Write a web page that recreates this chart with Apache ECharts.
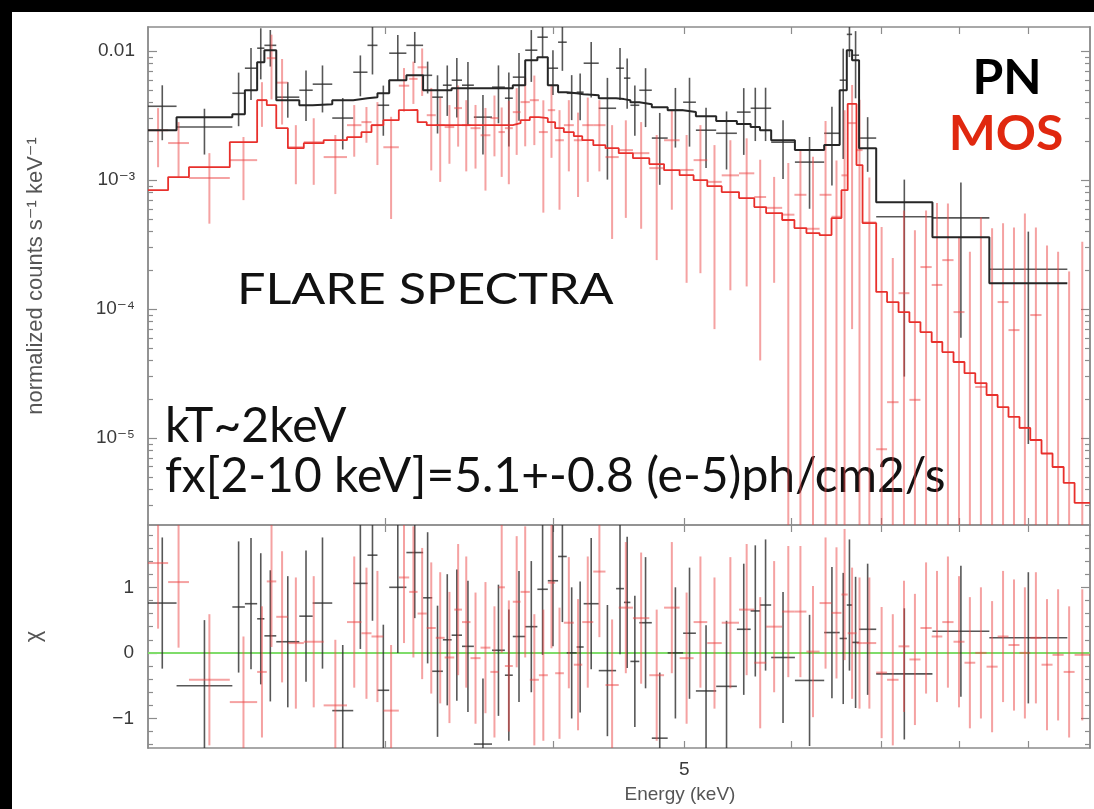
<!DOCTYPE html>
<html>
<head>
<meta charset="utf-8">
<style>
  html, body { margin: 0; padding: 0; background: #fff; }
  #chart { width: 1094px; height: 809px; }
</style>
<script src="https://cdn.jsdelivr.net/npm/echarts@6/dist/echarts.min.js"></script>
</head>
<body>
<div id="chart"></div>
<script>
// PN (black): bin edges in keV, counts/s/keV, 1-sigma errors, folded model, chi residuals
const pnEdges = [2.00, 2.10, 2.31, 2.36, 2.41, 2.44, 2.49, 2.59, 2.65, 2.74, 2.84, 2.91, 2.96, 3.02,
  3.11, 3.20, 3.25, 3.31, 3.36, 3.42, 3.49, 3.60, 3.68, 3.73, 3.81, 3.89, 3.96, 4.03, 4.09, 4.16,
  4.21, 4.32, 4.45, 4.51, 4.56, 4.63, 4.73, 4.86, 4.99, 5.10, 5.28, 5.47, 5.60, 5.69, 5.80, 6.04,
  6.35, 6.52, 6.60, 6.66, 6.74, 6.94, 7.64, 8.42, 9.62];
const pnRate = [0.00374, 0.00258, 0.00472, 0.00738, 0.01055, 0.0111, 0.0044, 0.00498, 0.00555,
  0.00303, 0.00687, 0.0111, 0.00381, 0.00965, 0.0111, 0.0065, 0.0044, 0.00545, 0.00596, 0.00545,
  0.00308, 0.00526, 0.00432, 0.00629, 0.01018, 0.01284, 0.00738, 0.01174, 0.00472, 0.00481,
  0.00807, 0.00361, 0.00738, 0.00618, 0.00381, 0.00498, 0.00212, 0.00349, 0.00402, 0.00244,
  0.00231, 0.00337, 0.00361, 0.00361, 0.00197, 0.00138, 0.00231, 0.00596, 0.0135, 0.00931,
  0.00212, 0.00052, 0.00051, 0.000204];
const pnErr = [0.0017, 0.0010, 0.0021, 0.0032, 0.0045, 0.0035, 0.00135, 0.0021, 0.0022, 0.0013,
  0.0024, 0.0045, 0.0016, 0.0037, 0.003, 0.0018, 0.0021, 0.0023, 0.0029, 0.0028, 0.0015, 0.0025,
  0.0025, 0.0034, 0.0044, 0.004, 0.0028, 0.0047, 0.0018, 0.0019, 0.0037, 0.0026, 0.0032, 0.0026,
  0.0016, 0.0024, 0.0012, 0.0017, 0.0022, 0.0012, 0.0011, 0.0018, 0.0016, 0.0016, 0.00095,
  0.00078, 0.0014, 0.0045, 0.0045, 0.005, 0.00096, 0.00049, 0.00045, 0.000195];
const pnModel = [0.00244, 0.00308, 0.00325, 0.00498, 0.00822, 0.01018, 0.00417, 0.00381, 0.00388,
  0.00417, 0.00432, 0.0044, 0.00472, 0.00596, 0.00652, 0.00498, 0.00498, 0.00498, 0.00517,
  0.00517, 0.00517, 0.00517, 0.00517, 0.00545, 0.00852, 0.00898, 0.00545, 0.00481, 0.00472,
  0.00464, 0.00456, 0.00432, 0.00425, 0.00417, 0.00402, 0.00388, 0.00368, 0.00349, 0.00337,
  0.00313, 0.00287, 0.00272, 0.00258, 0.00244, 0.00204, 0.00171, 0.00187, 0.00498, 0.01018,
  0.00852, 0.00177, 0.000675, 0.000361, 0.000159];
const pnChi = [0.76, -0.50, 0.70, 0.75, 0.52, 0.26, 0.17, 0.56, 0.76, -0.88, 1.06, 1.49, -0.57,
  1.00, 1.53, 0.84, -0.28, 0.20, 0.27, 0.10, -1.39, 0.04, -0.34, 0.25, 0.40, 0.97, 1.10, 1.47,
  0.00, 0.09, 0.75, -0.27, 0.98, 0.77, -0.13, 0.46, -1.30, 0.00, 0.30, -0.58, -0.51, 0.36, 0.64,
  0.73, -0.07, -0.42, 0.31, 0.22, 0.73, 0.16, 0.36, -0.32, 0.33, 0.23];

// MOS (red)
const mosEdges = [2.00, 2.07, 2.145, 2.30, 2.41, 2.45, 2.49, 2.54, 2.61, 2.70, 2.81, 2.88, 2.93,
  2.99, 3.07, 3.125, 3.17, 3.22, 3.27, 3.32, 3.375, 3.42, 3.47, 3.53, 3.59, 3.64, 3.68, 3.73,
  3.78, 3.84, 3.90, 3.96, 4.01, 4.07, 4.14, 4.20, 4.28, 4.37, 4.47, 4.58, 4.71, 4.83, 4.96, 5.08,
  5.20, 5.33, 5.49, 5.635, 5.75, 5.91, 6.035, 6.16, 6.30, 6.43, 6.54, 6.61, 6.71, 6.78, 6.94,
  7.07, 7.21, 7.345, 7.485, 7.63, 7.77, 7.92, 8.07, 8.22, 8.38, 8.54, 8.70, 8.865, 9.03, 9.205,
  9.38, 9.56, 9.74, 10.0];
const mosRate = [0.00244, 0.00194, 0.00104, 0.00143, 0.00417, 0.00883, 0.0057, 0.0018, 0.00197,
  0.00151, 0.00267, 0.00282, 0.00267, 0.0018, 0.0054, 0.0061, 0.0075, 0.00319, 0.00267, 0.00258,
  0.00362, 0.00267, 0.00253, 0.00223, 0.00303, 0.00236, 0.00253, 0.00337, 0.00403, 0.00417,
  0.00236, 0.00349, 0.00204, 0.00267, 0.00204, 0.00267, 0.00267, 0.00151, 0.00171, 0.00162,
  0.00124, 0.00204, 0.0012, 0.00143, 0.00097, 0.00109, 0.00113, 0.00074, 0.00061, 0.00054,
  0.00077, 0.00042, 0.00077, 0.00052, 0.00109, 0.00277, 0.00171, 0.00047, 0.0000082, 0.000019,
  0.000133, 0.0000198, 0.000212, 0.000154, 0.00024, 0.0000949, -0.000012, 0.0000249, -0.0000855,
  0.0001135, 0.0000688, 0.000012, 0.00009, -0.000059, -0.000002, -0.000074, -0.000007];
const mosErr = [0.00118, 0.00088, 0.00058, 0.00073, 0.00158, 0.0046, 0.003, 0.00087, 0.00105,
  0.00073, 0.00115, 0.00087, 0.00136, 0.0013, 0.002, 0.0022, 0.003, 0.002, 0.0017, 0.00124,
  0.0018, 0.0015, 0.0013, 0.0014, 0.0015, 0.0013, 0.0016, 0.0018, 0.0022, 0.0023, 0.0018, 0.002,
  0.00145, 0.0015, 0.0013, 0.0017, 0.0015, 0.00116, 0.0012, 0.0012, 0.001, 0.00145, 0.00104,
  0.00124, 0.0009, 0.00095, 0.00098, 0.0007, 0.00045, 0.00082, 0.00094, 0.0011, 0.0021, 0.0009,
  0.0024, 0.0027, 0.0025, 0.00058, 0.000425, 0.00023, 0.00045, 0.00039, 0.00037, 0.00051,
  0.00042, 0.00027, 0.00029, 0.00049, 0.00051, 0.00035, 0.00036, 0.00054, 0.00034, 0.00037,
  0.00028, 0.00027, 0.00034];
const mosModel = [0.000837, 0.001056, 0.001262, 0.001971, 0.00417, 0.003816, 0.002531, 0.001771,
  0.001937, 0.002043, 0.002155, 0.002357, 0.00267, 0.002919, 0.00349, 0.0035, 0.002817, 0.00267,
  0.00267, 0.00267, 0.00267, 0.00267, 0.00267, 0.00267, 0.00267, 0.00267, 0.00267, 0.002767,
  0.002919, 0.00308, 0.003025, 0.002817, 0.002531, 0.002357, 0.002194, 0.002043, 0.001869,
  0.001771, 0.00162, 0.001482, 0.001332, 0.001196, 0.001094, 0.001001, 0.000899, 0.000808,
  0.000726, 0.000618, 0.000556, 0.000491, 0.000425, 0.000389, 0.000375, 0.000508, 0.000837,
  0.0039, 0.001308, 0.000465, 0.000136, 0.0001135, 0.0000949, 0.0000794, 0.0000664, 0.0000556,
  0.0000465, 0.0000389, 0.0000319, 0.0000267, 0.0000216, 0.0000174, 0.0000146, 0.000012,
  0.00000967, 0.0000076, 0.00000597, 0.00000449, 0.00000315];
const mosChi = [1.37, 1.08, -0.41, -0.75, -0.29, 1.09, 0.55, 0.15, 0.17, -0.80, 0.47, 0.30, 0.25,
  -0.88, 1.15, 0.93, 0.60, 0.38, 0.23, -0.07, 0.66, 0.47, -0.08, 0.08, -0.29, 1.00, -0.20, 0.78,
  0.93, -0.41, -0.34, 1.07, -0.31, 0.46, -0.18, 0.47, 1.24, -0.49, 0.69, 0.53, -0.34, 0.69, -0.08,
  0.47, 0.15, 0.46, 0.66, -0.15, 0.40, 0.63, 0.63, 0.02, 0.76, 0.61, 0.89, 0.30, 0.15, 0.15,
  -0.30, -0.41, 0.10, -0.10, 0.38, 0.25, 0.47, 0.17, -0.15, 0.00, -0.21, 0.25, 0.12, 0.00, 0.23,
  -0.18, -0.03, -0.29, -0.03];

// axis ticks and labels
const energyTicks = [3, 4, 5, 6, 7, 8, 9];
const energyLabels = [5];
const countDecades = [1e-5, 1e-4, 1e-3, 1e-2];
const chiLabels = [-1, 0, 1];

const E_MIN = 2, E_MAX = 10;
const Y_MIN = 2.12e-6, Y_MAX = 0.0154;
const CHI_MIN = -1.45, CHI_MAX = 1.95;
const FRAME = '#8c8c8c';
const TICK_FONT = '"Liberation Sans", "DejaVu Sans", sans-serif';
const NOTE_FONT = 'Lato, "Open Sans", sans-serif';

const countMinor = [];
[1e-6, 1e-5, 1e-4, 1e-3, 1e-2].forEach((d) => {
    for (let m = 2; m <= 9; m++) {
        const v = d * m;
        if (v > Y_MIN && v < Y_MAX) countMinor.push(v);
    }
});
const chiMinor = [];
for (let k = -7; k <= 9; k++) {
    if (k % 5 !== 0) chiMinor.push(k / 5);
}

function binRows(edges, rate, err)
{
    return rate.map((v, i) => [edges[i], edges[i + 1], v, err[i]]);
}

function stepRows(edges, model)
{
    const rows = model.map((v, i) => [edges[i], v]);
    rows.push([edges[edges.length - 1], model[model.length - 1]]);
    return rows;
}

function chiRows(edges, chi)
{
    return chi.map((v, i) => [edges[i], edges[i + 1], v]);
}

function seg(a, b, color, width)
{
    return { type: 'line', shape: { x1: a[0], y1: a[1], x2: b[0], y2: b[1] },
        style: { stroke: color, lineWidth: width } };
}

function spectrumBars(color, width)
{
    return function (params, api) {
        const lo = api.value(0), hi = api.value(1), v = api.value(2), s = api.value(3);
        const mid = Math.sqrt(lo * hi);
        const top = Math.min(v + s, Y_MAX);
        const bottom = v - s > Y_MIN ? v - s : Y_MIN;
        const children = [];
        if (top > Y_MIN) {
            children.push(seg(api.coord([mid, top]), api.coord([mid, bottom]), color, width));
        }
        if (v > Y_MIN) {
            children.push(seg(api.coord([lo, v]), api.coord([hi, v]), color, width));
        }
        return { type: 'group', children: children };
    };
}

function chiBars(color, width)
{
    return function (params, api) {
        const lo = api.value(0), hi = api.value(1), r = api.value(2);
        const mid = Math.sqrt(lo * hi);
        return { type: 'group', children: [
            seg(api.coord([mid, Math.min(r + 1, CHI_MAX)]), api.coord([mid, Math.max(r - 1, CHI_MIN)]), color, width),
            seg(api.coord([lo, r]), api.coord([hi, r]), color, width)
        ] };
    };
}

function energyAxis(grid, pos, withLabel)
{
    return {
        type: 'log', logBase: 10, gridIndex: grid, position: pos, min: E_MIN, max: E_MAX,
        axisLine: { show: true, onZero: false, lineStyle: { color: FRAME, width: 1.5 } },
        axisTick: { show: true, inside: true, length: 7, customValues: energyTicks,
            lineStyle: { color: FRAME, width: 1.2 } },
        axisLabel: withLabel
            ? { show: true, customValues: energyLabels, margin: 12, fontSize: 19, color: '#3a3a3a', fontFamily: TICK_FONT }
            : { show: false },
        splitLine: { show: false }
    };
}

const supers = { '-3': '\u207b\u00b3', '-4': '\u207b\u2074', '-5': '\u207b\u2075', '-6': '\u207b\u2076' };

function countAxis(pos, ticks, len, extra)
{
    return Object.assign({
        type: 'log', logBase: 10, gridIndex: 0, position: pos, min: Y_MIN, max: Y_MAX,
        axisLine: { show: true, onZero: false, lineStyle: { color: FRAME, width: 1.5 } },
        axisTick: { show: true, inside: true, length: len, customValues: ticks,
            lineStyle: { color: FRAME, width: 1.2 } },
        axisLabel: { show: false },
        splitLine: { show: false }
    }, extra || {});
}

function chiAxis(pos, ticks, len, extra)
{
    return Object.assign({
        type: 'value', gridIndex: 1, position: pos, min: CHI_MIN, max: CHI_MAX,
        axisLine: { show: true, onZero: false, lineStyle: { color: FRAME, width: 1.5 } },
        axisTick: { show: true, inside: true, length: len, customValues: ticks,
            lineStyle: { color: FRAME, width: 1.2 } },
        axisLabel: { show: false },
        splitLine: { show: false }
    }, extra || {});
}

const chart = echarts.init(document.getElementById('chart'));

chart.setOption({
    animation: false,
    backgroundColor: '#fff',
    grid: [
        { left: 148, top: 27, width: 942, height: 498 },
        { left: 148, top: 525, width: 942, height: 223 }
    ],
    xAxis: [
        energyAxis(0, 'bottom', false),
        energyAxis(0, 'top', false),
        energyAxis(1, 'bottom', true),
        energyAxis(1, 'top', false)
    ],
    yAxis: [
        countAxis('left', countDecades, 9, {
            axisLabel: { show: true, customValues: countDecades, margin: 13, fontSize: 19,
                color: '#3a3a3a', fontFamily: TICK_FONT,
                formatter: function (v) {
                    const e = Math.round(Math.log10(v));
                    return e === -2 ? '0.01' : '10' + supers[String(e)];
                } },
            name: 'normalized counts s\u207b\u00b9 keV\u207b\u00b9', nameLocation: 'middle', nameGap: 101,
            nameTextStyle: { fontSize: 22, color: '#555', fontFamily: TICK_FONT }
        }),
        countAxis('left', countMinor, 5),
        countAxis('right', countDecades, 9),
        countAxis('right', countMinor, 5),
        chiAxis('left', chiLabels, 9, {
            axisLabel: { show: true, customValues: chiLabels, margin: 14, fontSize: 19,
                color: '#3a3a3a', fontFamily: TICK_FONT,
                formatter: function (v) { return v < 0 ? '\u2212' + Math.abs(v) : String(v); } },
            name: '\u03c7', nameLocation: 'middle', nameGap: 103,
            nameTextStyle: { fontSize: 22, color: '#555', fontFamily: TICK_FONT }
        }),
        chiAxis('left', chiMinor, 5),
        chiAxis('right', chiLabels, 9),
        chiAxis('right', chiMinor, 5)
    ],
    graphic: [
        { type: 'rect', shape: { x: 0, y: 0, width: 1094, height: 12 }, style: { fill: '#000' } },
        { type: 'rect', shape: { x: 0, y: 0, width: 12, height: 809 }, style: { fill: '#000' } },
        { type: 'text', x: 237, y: 290, scaleX: 1.17, style: { text: 'FLARE SPECTRA', font: '43px ' + NOTE_FONT,
            fill: '#111', verticalAlign: 'middle' } },
        { type: 'text', x: 165, y: 427, style: { text: 'kT~2keV', font: '48px ' + NOTE_FONT,
            fill: '#111', verticalAlign: 'middle' } },
        { type: 'text', x: 165, y: 477, style: { text: 'fx[2-10 keV]=5.1+-0.8 (e-5)ph/cm2/s',
            font: '48px ' + NOTE_FONT, fill: '#111', verticalAlign: 'middle' } },
        { type: 'text', x: 1007, y: 79, scaleX: 1.06, style: { text: 'PN', font: 'bold 47px ' + NOTE_FONT,
            fill: '#000', align: 'center', verticalAlign: 'middle' } },
        { type: 'text', x: 1006, y: 135, scaleX: 1.06, style: { text: 'MOS', font: 'bold 47px ' + NOTE_FONT,
            fill: '#e0280f', align: 'center', verticalAlign: 'middle' } },
        { type: 'text', x: 680, y: 795, style: { text: 'Energy (keV)', font: '19px ' + TICK_FONT,
            fill: '#555', align: 'center', verticalAlign: 'middle' } }
    ],
    series: [
        { type: 'custom', xAxisIndex: 0, yAxisIndex: 0, clip: true, z: 2,
          encode: { x: [0, 1], y: 2 }, renderItem: spectrumBars('rgba(45,45,45,0.8)', 1.6),
          data: binRows(pnEdges, pnRate, pnErr) },
        { type: 'custom', xAxisIndex: 0, yAxisIndex: 0, clip: true, z: 3,
          encode: { x: [0, 1], y: 2 }, renderItem: spectrumBars('rgba(235,70,70,0.5)', 2),
          data: binRows(mosEdges, mosRate, mosErr) },
        { type: 'line', xAxisIndex: 0, yAxisIndex: 0, step: 'end', symbol: 'none', clip: true, z: 4,
          lineStyle: { color: '#262626', width: 2 }, data: stepRows(pnEdges, pnModel) },
        { type: 'line', xAxisIndex: 0, yAxisIndex: 0, step: 'end', symbol: 'none', clip: true, z: 5,
          lineStyle: { color: '#e8302c', width: 1.8 }, data: stepRows(mosEdges, mosModel) },
        { type: 'line', xAxisIndex: 2, yAxisIndex: 4, symbol: 'none', z: 2,
          lineStyle: { color: '#7fdc6a', width: 2 }, data: [[E_MIN, 0], [E_MAX, 0]] },
        { type: 'custom', xAxisIndex: 2, yAxisIndex: 4, clip: true, z: 3,
          encode: { x: [0, 1], y: 2 }, renderItem: chiBars('rgba(45,45,45,0.8)', 1.6),
          data: chiRows(pnEdges, pnChi) },
        { type: 'custom', xAxisIndex: 2, yAxisIndex: 4, clip: true, z: 4,
          encode: { x: [0, 1], y: 2 }, renderItem: chiBars('rgba(235,70,70,0.5)', 2),
          data: chiRows(mosEdges, mosChi) }
    ]
});
</script>
</body>
</html>
